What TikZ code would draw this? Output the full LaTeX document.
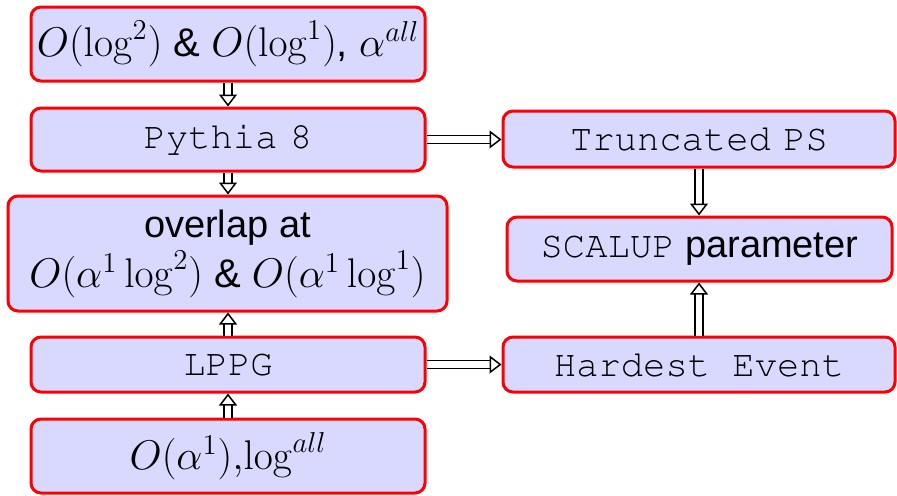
\documentclass[tikz,border=0pt]{standalone}
\usepackage[no-math]{fontspec}
\newfontfamily\helv{Liberation Sans}
\newcommand\cour{\fontencoding{T1}\fontfamily{pcr}\selectfont}
\usetikzlibrary{arrows.meta}
\definecolor{boxfill}{RGB}{217,217,255}
\tikzset{
  stepbox/.style={draw=red, line width=1.5pt, fill=boxfill, rounded corners=5pt,
    inner sep=0pt, align=center, font=\helv\fontsize{19}{22}\selectfont},
  dbl/.style={double=white, draw=black, line width=0.75pt, double distance=3.2pt,
    -{Triangle[open, length=6pt, width=9pt, line width=0.75pt]}}
}
\begin{document}
\begin{tikzpicture}[x=0.5pt,y=-0.5pt]
\useasboundingbox (0,0) rectangle (897,495);
\node[stepbox, minimum width=197pt, minimum height=37pt] (b1) at (228,44)
  {\fontsize{20}{24}\selectfont$O(\log^2)$ \& $O(\log^1)$, $\alpha^{all}$};
\node[stepbox, minimum width=197pt, minimum height=31.5pt] (py) at (228,139.5)
  {\cour\fontsize{18.6}{22}\selectfont Pythia\,\,8};
\node[stepbox, minimum width=219.5pt, minimum height=57.5pt] (ov) at (227.5,253.5)
  {\fontsize{19}{22}\selectfont overlap at\\[2pt]\fontsize{20}{24}\selectfont$O(\alpha^1\log^2)$ \& $O(\alpha^1\log^1)$};
\node[stepbox, minimum width=197pt, minimum height=27.5pt] (lp) at (228,364.5)
  {\cour\fontsize{18.6}{22}\selectfont LPPG};
\node[stepbox, minimum width=197pt, minimum height=37pt] (bt) at (228,456)
  {\fontsize{20}{24}\selectfont$O(\alpha^1){,}\!\log^{all}$};
\node[stepbox, minimum width=196pt, minimum height=28pt] (tr) at (699,139)
  {\cour\fontsize{18.6}{22}\selectfont Truncated\,\,PS};
\node[stepbox, minimum width=192.5pt, minimum height=32pt] (sc) at (699.5,249)
  {{\cour\fontsize{18.6}{22}\selectfont SCALUP} parameter};
\node[stepbox, minimum width=196pt, minimum height=27.5pt] (he) at (699,364.5)
  {\cour\fontsize{18.6}{22}\selectfont Hardest Event};
\draw[dbl] (b1.south) -- (py.north);
\draw[dbl] (py.south) -- (ov.north -| py.south);
\draw[dbl] (lp.north) -- (ov.south -| lp.north);
\draw[dbl] (bt.north) -- (lp.south);
\draw[dbl] (py.east) -- (tr.west |- py.east);
\draw[dbl] (lp.east) -- (he.west |- lp.east);
\draw[dbl] (tr.south) -- (sc.north -| tr.south);
\draw[dbl] (he.north) -- (sc.south -| he.north);
\end{tikzpicture}
\end{document}
